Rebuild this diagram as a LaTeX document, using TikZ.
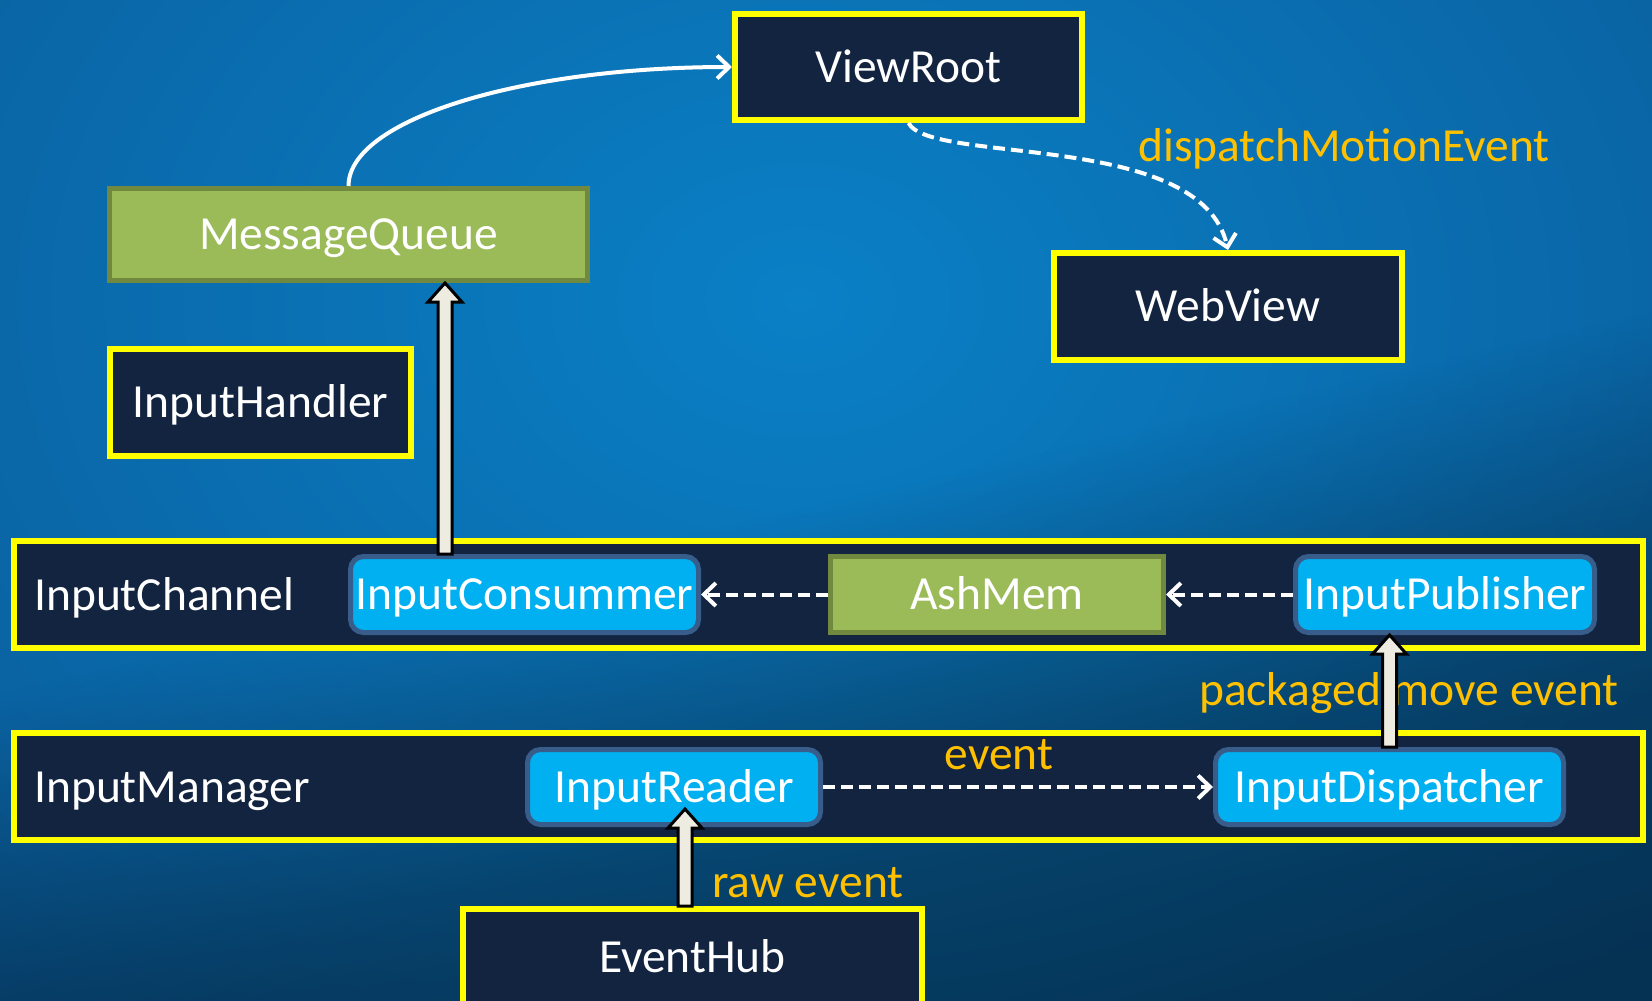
\documentclass[tikz,border=0pt]{standalone}
\usepackage{fontspec}
\setmainfont{Carlito}
\usetikzlibrary{arrows.meta,calc}
\definecolor{navybox}{HTML}{122440}
\definecolor{ylw}{HTML}{FFFF00}
\definecolor{grfill}{HTML}{9BBB59}
\definecolor{grline}{HTML}{71893F}
\definecolor{cyfill}{HTML}{00B0F0}
\definecolor{cyline}{HTML}{385D8A}
\definecolor{lblc}{HTML}{FFC000}
\definecolor{arrfill}{HTML}{EEECE1}
\definecolor{bgin}{HTML}{0A80C6}
\definecolor{bgout}{HTML}{0A5C9A}
\definecolor{mA}{gray}{0.50}
\definecolor{mB}{gray}{0.53}
\definecolor{mC}{gray}{0.62}
\definecolor{mD}{gray}{0.67}
\definecolor{mE}{gray}{0.84}
\pgfdeclareverticalshading{mshade}{2400bp}{color(0bp)=(mA); color(527bp)=(mB); color(829bp)=(mC); color(900bp)=(mD); color(1060bp)=(mE); color(1200bp)=(white); color(2400bp)=(white)}
\tikzset{
  lbl/.style={font=\fontsize{47.5pt}{57pt}\selectfont, text=white},
  ybox/.style={draw=ylw, line width=6pt, fill=navybox, lbl, text height=30pt, text depth=0pt, inner sep=0pt},
  gbox/.style={draw=grline, line width=5pt, fill=grfill, lbl, text height=30pt, text depth=0pt, inner sep=0pt},
  cbox/.style={draw=cyline, line width=5pt, fill=cyfill, rounded corners=13pt, lbl, text height=30pt, text depth=0pt, inner sep=0pt},
  orl/.style={font=\fontsize{47.5pt}{57pt}\selectfont, text=lblc, inner sep=0pt},
  conn/.style={draw=white, line width=4pt, -{Straight Barb[length=12pt,width=23pt]}},
  dconn/.style={conn, dash pattern=on 12pt off 6pt},
  blockarrow/.style={draw=black, line width=3pt, fill=arrfill}
}
\begin{document}
\begin{tikzpicture}[x=1pt,y=-1pt]
\useasboundingbox (0,0) rectangle (1652,1001);
\begin{scope}
\clip (0,0) rectangle (1652,1001);
% background
\shade[inner color=bgin, outer color=bgout] (-400,-600) rectangle (2000,1200);
\begin{scope}[blend mode=multiply]
\node[inner sep=0pt, outer sep=0pt, rotate=13] (shadebg) at (826,500) {\pgfuseshading{mshade}};
\end{scope}
% boxes
\node[ybox, minimum width=347pt, minimum height=106pt] (vr) at (908.5,67) {ViewRoot};
\node[ybox, minimum width=348pt, minimum height=107pt] (wv) at (1228,306.5) {WebView};
\node[gbox, minimum width=478pt, minimum height=92pt] (mq) at (348.5,234.5) {MessageQueue};
\node[ybox, minimum width=301pt, minimum height=107pt] (ih) at (260.5,402.5) {InputHandler};
\node[ybox, minimum width=1629pt, minimum height=107pt] (chband) at (828.5,594.5) {};
\node[lbl, anchor=base west, inner sep=0pt] (chlbl) at (34,610) {InputChannel};
\node[cbox, minimum width=348pt, minimum height=76pt] (ic) at (524.5,594.5) {InputConsummer};
\node[gbox, minimum width=333pt, minimum height=76pt] (am) at (997,594.5) {AshMem};
\node[cbox, minimum width=299pt, minimum height=76pt] (ip) at (1445,594.5) {InputPublisher};
\node[ybox, minimum width=1629pt, minimum height=107pt] (mgband) at (828.5,786.5) {};
\node[lbl, anchor=base west, inner sep=0pt] (mglbl) at (34,802) {InputManager};
\node[cbox, minimum width=293pt, minimum height=75pt] (ir) at (674,787) {InputReader};
\node[cbox, minimum width=348pt, minimum height=75pt] (id) at (1389.5,787) {InputDispatcher};
\node[ybox, minimum width=459pt, minimum height=96pt] (eh) at (692.5,957) {EventHub};
% labels
\node[orl, anchor=base west] (l1) at (1138,161) {dispatchMotionEvent};
\node[orl, anchor=base west] (l2) at (1199,705) {packaged move event};
\node[orl, anchor=base] (l3) at (999,769) {event};
\node[orl, anchor=base west] (l4) at (712,897) {raw event};
% connectors
\draw[conn] (mq.north) .. controls +(0,-66) and +(-212,0) .. (vr.west);
\draw[dconn] (vr.south) .. controls +(22,42) and +(-27,-120) .. (wv.north);
\draw[dconn] (am.west) -- (ic.east);
\draw[dconn] (ip.west) -- (am.east);
\draw[dconn] (ir.east) -- (id.west);
% block arrows
\draw[blockarrow] let \p1=($(ic.north)+(-79.5,0)$), \p2=(mq.south) in
  (\x1-7pt,\y1) -- (\x1-7pt,\y2-19pt) -- (\x1-17pt,\y2-19pt) -- (\x1,\y2)
  -- (\x1+17pt,\y2-19pt) -- (\x1+7pt,\y2-19pt) -- (\x1+7pt,\y1) -- cycle;
\draw[blockarrow] let \p1=(id.north), \p2=(ip.south) in
  (\x1-7pt,\y1) -- (\x1-7pt,\y2-19pt) -- (\x1-17pt,\y2-19pt) -- (\x1,\y2)
  -- (\x1+17pt,\y2-19pt) -- (\x1+7pt,\y2-19pt) -- (\x1+7pt,\y1) -- cycle;
\draw[blockarrow] let \p1=($(eh.north)+(-7.5,0)$), \p2=(ir.south) in
  (\x1-7pt,\y1) -- (\x1-7pt,\y2+18pt-19pt) -- (\x1-17pt,\y2+18pt-19pt) -- (\x1,\y2+18pt)
  -- (\x1+17pt,\y2+18pt-19pt) -- (\x1+7pt,\y2+18pt-19pt) -- (\x1+7pt,\y1) -- cycle;
\end{scope}
\end{tikzpicture}
\end{document}
